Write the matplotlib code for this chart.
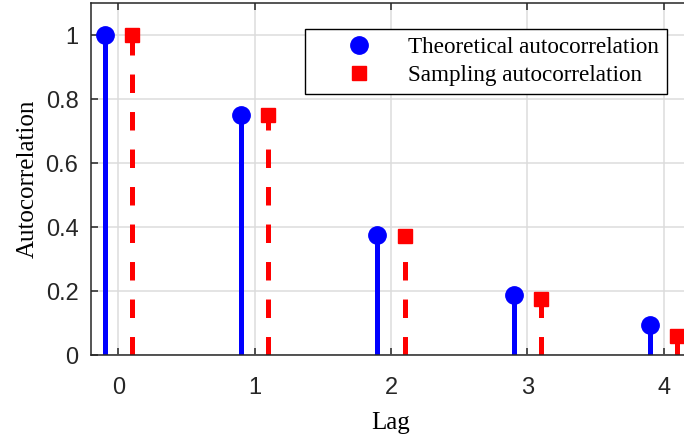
import matplotlib
matplotlib.use("Agg")
import matplotlib.pyplot as plt
from matplotlib.lines import Line2D
import numpy as np

plt.rcParams['lines.scale_dashes'] = False

lags = [0, 1, 2, 3, 4]
theoretical = [1.0, 0.75, 0.375, 0.1875, 0.094]
sampling = [1.0, 0.749, 0.372, 0.176, 0.058]
xticklabels = ['0', '1', '2', '3', '4']
yticks = [0, 0.2, 0.4, 0.6, 0.8, 1]
yticklabels = ['0', '0.2', '0.4', '0.6', '0.8', '1']

W, H = 684, 437
fig = plt.figure(figsize=(W / 100, H / 100), dpi=100)
ax = fig.add_axes([91 / W, (H - 355) / H, (691 - 91) / W, (355 - 3) / H])

dark = '#262626'
offset = 0.1
xt = np.array(lags, dtype=float)

m1, s1, b1 = ax.stem(xt - offset, theoretical, linefmt='b-', markerfmt='bo', basefmt=' ')
s1.set_linewidth(3.6)
s1.set_color('#0000ff')
m1.set_markersize(12.5)
m1.set_color('#0000ff')

m2, s2, b2 = ax.stem(xt + offset, sampling, linefmt='r--', markerfmt='rs', basefmt=' ')
s2.set_linewidth(3.6)
s2.set_color('#ff0000')
s2.set_linestyle((0, (13.3, 13.7)))
s2.set_capstyle('butt')
m2.set_markersize(10)
m2.set_color('#ff0000')

ax.set_xlim(-0.2, 4.2)
ax.set_ylim(0, 1.1)
ax.set_xticks(lags)
ax.set_xticklabels(xticklabels)
ax.set_yticks(yticks)
ax.set_yticklabels(yticklabels)

ax.grid(True, color='#dcdcdc', linewidth=1.1)
ax.set_axisbelow(True)
for sp in ax.spines.values():
    sp.set_color(dark)
    sp.set_linewidth(1.1)

ax.tick_params(axis='both', direction='in', length=5, width=1.1, color=dark,
               labelcolor=dark, labelsize=17, top=True, right=True,
               labelfontfamily='Liberation Sans')
ax.tick_params(axis='y', pad=9)
ax.tick_params(axis='x', pad=16)

ax.set_xlabel('Lag', fontfamily='Liberation Serif', fontsize=18, labelpad=9)
ax.set_ylabel('Autocorrelation', fontfamily='Liberation Serif', fontsize=18, labelpad=5)

h1 = Line2D([], [], color='#0000ff', marker='o', linestyle='none', markersize=12.5)
h2 = Line2D([], [], color='#ff0000', marker='s', linestyle='none', markersize=10)
leg = ax.legend([h1, h2], ['Theoretical autocorrelation', 'Sampling autocorrelation'],
                loc='upper right', bbox_to_anchor=((667 - 91) / (691 - 91), (355 - 29) / (355 - 3)),
                prop={'family': 'Liberation Serif', 'size': 16.7}, frameon=True, fancybox=False,
                edgecolor='black', framealpha=1, borderpad=0.35, labelspacing=0.27,
                handlelength=3.95, handletextpad=0.15, borderaxespad=0)
leg.get_frame().set_linewidth(1.0)

fig.savefig('out.png', dpi=100)
